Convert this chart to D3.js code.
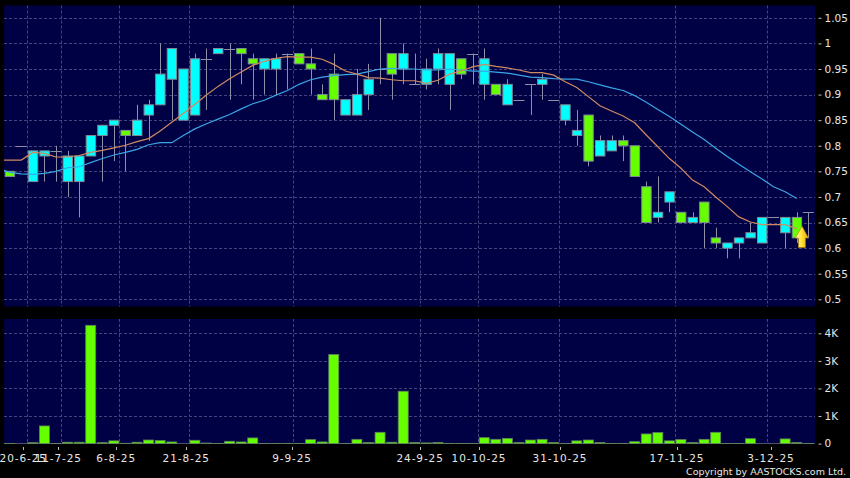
<!DOCTYPE html>
<html><head><meta charset="utf-8">
<script src="https://cdn.jsdelivr.net/npm/d3@7/dist/d3.min.js"></script>
<style>html,body{margin:0;padding:0;background:#000;overflow:hidden}svg{display:block}</style>
</head><body><div id="c"></div>
<script>
const opens  = [.75,.80,.73,.78,.79,.73,.73,.78,.82,.84,.83,.82,.86,.88,.93,.85,.86,.97,.98,.99,.99,.97,.95,.95,.98,.98,.96,.90,.94,.86,.86,.90,.95,.98,.95,.92,.92,.95,.92,.97,.98,.92,.92,.88,.89,.92,.92,.89,.85,.82,.86,.78,.79,.81,.80,.72,.66,.69,.67,.65,.69,.62,.60,.61,.62,.61,.66,.63,.66,.67];
const closes = [.74,.80,.79,.79,.79,.78,.78,.82,.84,.85,.82,.85,.88,.94,.99,.95,.97,.97,.99,.99,.98,.96,.97,.97,.98,.96,.95,.89,.89,.89,.90,.93,.95,.94,.98,.92,.95,.98,.98,.94,.98,.97,.90,.92,.89,.92,.93,.89,.88,.83,.77,.81,.81,.80,.74,.65,.67,.71,.65,.66,.65,.61,.61,.62,.63,.66,.66,.66,.62,.67];
const highs  = [.75,.80,.79,.79,.80,.79,.78,.82,.84,.85,.83,.88,.89,1.0,.99,.95,.98,.99,.99,1.0,.99,.98,.97,.98,.98,.98,.99,.92,.98,.89,.95,.96,1.05,.98,1.0,.98,.97,.99,.98,.97,.98,.99,.92,.93,.89,.92,.94,.89,.88,.87,.86,.82,.82,.82,.80,.73,.74,.71,.67,.67,.69,.64,.61,.62,.65,.66,.66,.66,.67,.67];
const lows   = [.74,.80,.73,.73,.73,.70,.66,.78,.73,.77,.75,.82,.81,.88,.85,.85,.86,.87,.98,.89,.92,.89,.90,.90,.91,.96,.90,.89,.85,.86,.86,.87,.92,.89,.92,.92,.91,.92,.87,.93,.92,.89,.90,.88,.89,.86,.89,.89,.84,.80,.76,.78,.79,.77,.74,.65,.65,.67,.65,.65,.60,.60,.58,.58,.62,.61,.66,.60,.61,.62];
const maShort = [.772,.772,.787,.785,.778,.778,.781,.787,.791,.796,.801,.808,.814,.829,.846,.863,.881,.899,.916,.931,.944,.957,.965,.971,.974,.973,.973,.969,.959,.946,.94,.933,.932,.929,.927,.927,.922,.928,.94,.946,.954,.959,.955,.952,.948,.943,.943,.938,.925,.914,.896,.878,.868,.858,.845,.821,.798,.775,.756,.733,.72,.70,.681,.661,.651,.646,.646,.646,.638];
const maLong  = [.748,.745,.744,.746,.750,.757,.759,.767,.775,.782,.787,.793,.802,.806,.806,.82,.833,.843,.852,.861,.872,.882,.889,.899,.908,.92,.929,.934,.937,.939,.94,.945,.95,.951,.95,.95,.948,.948,.95,.948,.946,.946,.944,.942,.938,.934,.933,.931,.93,.93,.925,.919,.913,.908,.898,.885,.871,.857,.842,.827,.812,.795,.779,.764,.749,.735,.72,.71,.697];
const maShortLead = .772;
const maLongLead = .752;
const volumes = [5,0,35,640,5,50,50,4290,35,100,10,50,130,110,60,0,120,20,5,85,60,205,5,5,5,5,145,60,3230,5,155,40,410,50,1900,40,25,40,8,5,5,215,155,190,40,130,155,40,5,100,130,40,5,5,70,350,400,100,145,40,155,410,5,5,180,0,0,170,40,5];
const priceTicks = [.5,.55,.6,.65,.7,.75,.8,.85,.9,.95,1,1.05];
const volTicks = [0,1000,2000,3000,4000];
const volTickLabels = ["0","1K","2K","3K","4K"];
const dateLabels = ["20-6-25","11-7-25","6-8-25","21-8-25","9-9-25","24-9-25","10-10-25","31-10-25","17-11-25","3-12-25"];
const dateLabelCandles = [1.17,4.2,9.2,15.25,24.4,35.46,40.55,47.55,57.65,65.77];
const gridCandles = [1.5,4.46,9.46,15.5,24.5,35.46,40.5,47.46,57.5,65.4];
const signalCandle = 68.45;
const signalPrice = 0.6;

const W=850,H=478,L=4,R=815;
const x=d3.scaleLinear().domain([0,69]).range([9.7,808.3]);
const yP=d3.scaleLinear().domain([.5,1.05]).range([299.3,17.8]);
const yV=d3.scaleLinear().domain([0,4000]).range([443.6,333.3]);
const svg=d3.select("#c").append("svg").attr("width",W).attr("height",H);
const defs=svg.append("defs");
const g=defs.append("linearGradient").attr("id","ag").attr("x1",0).attr("x2",1).attr("y1",0).attr("y2",0);
g.append("stop").attr("offset","0").attr("stop-color","#fff8b0");
g.append("stop").attr("offset",".5").attr("stop-color","#ffe030");
g.append("stop").attr("offset","1").attr("stop-color","#e8a010");
svg.append("rect").attr("width",W).attr("height",H).attr("fill","#000");
const PANEL="#000044",GRID="#44447c",EDGE="#7d8a96";
svg.append("rect").attr("x",L).attr("y",5.5).attr("width",R-L).attr("height",301).attr("fill",PANEL);
svg.append("rect").attr("x",L).attr("y",319).attr("width",R-L).attr("height",124.6).attr("fill",PANEL);
function hgrid(vals,y){svg.append("g").selectAll("line").data(vals).join("line").attr("x1",L).attr("x2",R)
  .attr("y1",d=>Math.round(y(d))+.5).attr("y2",d=>Math.round(y(d))+.5)
  .attr("stroke",GRID).attr("stroke-dasharray","3 2");}
hgrid(priceTicks,yP);hgrid(volTicks.slice(1),yV);
[[5.5,306.5],[319,443.6]].forEach(([a,b])=>{
 svg.append("g").selectAll("line").data(gridCandles).join("line")
  .attr("x1",d=>Math.round(x(d))+.5).attr("x2",d=>Math.round(x(d))+.5).attr("y1",a).attr("y2",b)
  .attr("stroke",GRID).attr("stroke-dasharray","3 2");});
svg.append("line").attr("x1",L).attr("x2",R).attr("y1",443.5).attr("y2",443.5).attr("stroke","#50506e");
const n=opens.length, idx=d3.range(n);
svg.append("g").selectAll("line").data(idx).join("line")
 .attr("x1",i=>Math.round(x(i))+.5).attr("x2",i=>Math.round(x(i))+.5)
 .attr("y1",i=>yP(highs[i])).attr("y2",i=>yP(lows[i])).attr("stroke","#8f8fa8").attr("stroke-width",1);
svg.append("g").selectAll("line").data(idx.filter(i=>opens[i]===closes[i])).join("line")
 .attr("x1",i=>x(i)-5.5).attr("x2",i=>x(i)+5.5)
 .attr("y1",i=>Math.round(yP(closes[i]))+.5).attr("y2",i=>Math.round(yP(closes[i]))+.5).attr("stroke","#8f8fa8");
svg.append("g").selectAll("rect").data(idx.filter(i=>opens[i]!==closes[i])).join("rect")
 .attr("x",i=>x(i)-4.5).attr("width",9.4)
 .attr("y",i=>yP(Math.max(opens[i],closes[i]))).attr("height",i=>Math.abs(yP(opens[i])-yP(closes[i])))
 .attr("fill",i=>closes[i]>opens[i]?"#00ffff":"#66ff00").attr("stroke",EDGE).attr("stroke-width",1);
const line=d3.line().x(d=>x(d[0])).y(d=>yP(d[1]));
const withLead=(lead,vals)=>[[-0.49,lead],...vals.map((v,i)=>[i,v])];
svg.append("path").attr("d",line(withLead(maLongLead,maLong))).attr("fill","none").attr("stroke","#3aa6e6").attr("stroke-width",1.2);
svg.append("path").attr("d",line(withLead(maShortLead,maShort))).attr("fill","none").attr("stroke","#d08a60").attr("stroke-width",1.2);
const ax=x(signalCandle),ay=yP(signalPrice);
svg.append("path").attr("d",`M${ax} ${ay-22}L${ax+6.5} ${ay-10}L${ax+3.5} ${ay-10}L${ax+3.5} ${ay-.5}L${ax-3.5} ${ay-.5}L${ax-3.5} ${ay-10}L${ax-6.5} ${ay-10}Z`)
 .attr("fill","url(#ag)").attr("stroke","#b98000").attr("stroke-width",.6);
svg.append("g").selectAll("rect").data(idx.filter(i=>volumes[i]>0)).join("rect")
 .attr("x",i=>x(i)-5).attr("width",10)
 .attr("y",i=>yV(volumes[i])).attr("height",i=>yV(0)-yV(volumes[i]))
 .attr("fill","#66ff00").attr("stroke","#5f7f5f").attr("stroke-width",.8);
const FONT="'DejaVu Sans',sans-serif";
function rightAxis(vals,y,fmt){
 const a=svg.append("g").attr("transform",`translate(${R+.5},0)`)
   .call(d3.axisRight(y).tickValues(vals).tickSize(3).tickPadding(5).tickFormat(fmt));
 a.select(".domain").remove();
 a.selectAll(".tick line").attr("stroke","#bbb").attr("x1",3).attr("x2",6);
 a.selectAll("text").attr("x",9).attr("fill","#e6e6e6").attr("font-family",FONT).attr("font-size",10.5);
}
rightAxis(priceTicks,yP,d=>String(d));
rightAxis(volTicks,yV,(d,i)=>volTickLabels[i]);
const tickPos=dateLabelCandles;
svg.append("g").selectAll("line").data(tickPos).join("line")
 .attr("x1",d=>Math.round(x(d))+.5).attr("x2",d=>Math.round(x(d))+.5).attr("y1",447).attr("y2",450).attr("stroke","#bbb");
svg.append("g").selectAll("text").data(dateLabels).join("text")
 .attr("x",(d,i)=>x(tickPos[i])).attr("y",462).attr("text-anchor","middle").attr("fill","#e6e6e6")
 .attr("font-family",FONT).attr("font-size",10.5).attr("letter-spacing",.9).text(d=>d);
svg.append("text").attr("x",846).attr("y",475).attr("text-anchor","end").attr("fill","#e6e6e6")
 .attr("font-family",FONT).attr("font-size",9.5).text("Copyright by AASTOCKS.com Ltd.");
</script></body></html>
